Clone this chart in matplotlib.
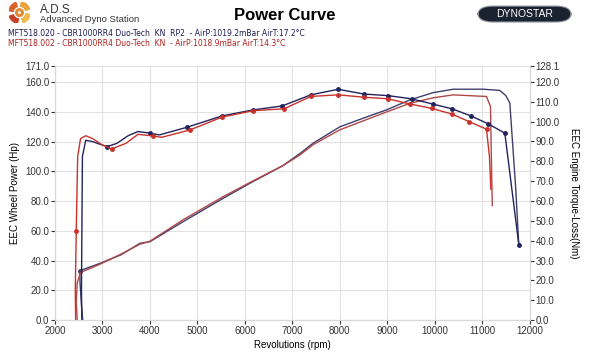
import matplotlib
matplotlib.use("Agg")
import matplotlib.pyplot as plt
from matplotlib.patches import FancyBboxPatch, Wedge

plt.rcParams["font.family"] = ["Liberation Sans", "DejaVu Sans"]

# run 020 (navy) and run 002 (red)
rpm_pw_a = [2600, 2560, 2530, 2526, 2947, 3400, 3789, 4000, 4701, 5543, 6105, 6807,
            7158, 7438, 8000, 8491, 8983, 9474, 9965, 10386, 11017, 11368, 11495,
            11579, 11700, 11768]
hp_a = [-5, 10, 25, 33.2, 38.1, 44, 51.6, 52.7, 66.2, 81.9, 92, 104,
        112, 119, 130, 135.8, 141.4, 148.1, 153, 155.3, 155.3, 154.5, 151,
        146, 90, 50.7]

rpm_pw_b = [2480, 2450, 2470, 2540, 2947, 3400, 3789, 4000, 4701, 5543, 6105, 6807,
            7158, 7438, 8000, 8491, 8983, 9474, 9965, 10386, 11088, 11172, 11190, 11210]
hp_b = [-5, 12, 25, 32, 37.5, 44.5, 51, 53, 67.5, 83, 92.5, 104,
        111, 118, 128, 134, 140, 145.8, 149.5, 151.5, 150.4, 143.6, 110, 77]

rpm_tq_a = [2570, 2560, 2580, 2650, 2800, 2950, 3101, 3300, 3550, 3750, 4000, 4200,
            4786, 5522, 6175, 6786, 7389, 7965, 8512, 9017, 9509, 9951, 10372, 10758,
            11123, 11474, 11768]
nm_a = [-3.7, 15, 82.4, 90.6, 89.9, 88.6, 87.4, 89.0, 93.0, 95.0, 94.2, 93.3,
        97.2, 102.9, 105.9, 107.9, 113.5, 116.3, 113.9, 113.1, 111.5, 108.9, 106.4,
        102.9, 98.9, 94.2, 38.0]
mk_a = [6, 10, 12, 13, 14, 15, 16, 17, 18, 19, 20, 21, 22, 23, 24, 25, 26]

rpm_tq_b = [2440, 2430, 2450, 2480, 2540, 2650, 2800, 2980, 3193, 3500, 3750, 4057,
            4250, 4842, 5522, 6175, 6828, 7389, 7965, 8512, 9017, 9474, 9930, 10351,
            10722, 11088, 11150, 11180]
nm_b = [-3.7, 15, 44.9, 82.4, 91.4, 92.9, 91.4, 88.5, 86.2, 89.1, 93.6, 92.8,
        92.1, 95.8, 102.3, 105.5, 106.5, 112.7, 113.5, 112.3, 111.5, 108.9, 106.7,
        103.9, 100.0, 96.2, 82.4, 65.9]
mk_b = [2, 8, 11, 13, 14, 15, 16, 17, 18, 19, 20, 21, 22, 23, 24, 25]

left_ticks = [0, 20, 40, 60, 80, 100, 120, 140, 160, 171]
right_ticks = [0, 10, 20, 30, 40, 50, 60, 70, 80, 90, 100, 110, 120, 128.1]
x_ticks = list(range(2000, 12001, 1000))

navy = "#22225e"
navy2 = "#3e3e6e"
red = "#c8322a"
red2 = "#b04848"

fig = plt.figure(figsize=(5.9, 3.6), dpi=100)
ax = fig.add_axes([0.093, 0.111, 0.805, 0.706])
ax2 = ax.twinx()

ax.plot(rpm_pw_a, hp_a, color=navy2, lw=1.0, marker="o", ms=2.5, markevery=[3])
ax.plot(rpm_pw_b, hp_b, color=red2, lw=1.0)
ax2.plot(rpm_tq_a, nm_a, color=navy, lw=1.0, marker="o", ms=2.5, markevery=mk_a)
ax2.plot(rpm_tq_b, nm_b, color=red, lw=1.0, marker="o", ms=2.5, markevery=mk_b)

ax.set_xlim(2000, 12000)
ax.set_ylim(0, 171)
ax2.set_ylim(0, 128.1)
ax.set_xticks(x_ticks)
ax.set_yticks(left_ticks)
ax.set_yticklabels([f"{v:.1f}" for v in left_ticks])
ax2.set_yticks(right_ticks)
ax2.set_yticklabels([f"{v:.1f}" for v in right_ticks])
ax.grid(True, color="#e2e2e2", lw=0.8)
ax.set_axisbelow(True)

for a in (ax, ax2):
    a.tick_params(labelsize=7, length=3, width=0.8, pad=1, colors="#333333")
    for s in a.spines.values():
        s.set_color("#d8d8d8")
    a.spines["top"].set_visible(False)

ax.set_xlabel("Revolutions (rpm)", fontsize=7, labelpad=3)
ax.set_ylabel("EEC Wheel Power (Hp)", fontsize=7, labelpad=4)
ax2.set_ylabel("EEC Engine Torque-Loss(Nm)", fontsize=7, rotation=-90, labelpad=14)

# header
fig.text(0.068, 0.972, "A.D.S.", fontsize=8.5, color="#333333", va="center")
fig.text(0.068, 0.946, "Advanced Dyno Station", fontsize=6.8, color="#333333", va="center")
fig.text(0.483, 0.958, "Power Curve", fontsize=12, fontweight="bold", ha="center", va="center")
fig.text(0.014, 0.906, "MFT518.020 - CBR1000RR4 Duo-Tech  KN  RP2  - AirP:1019.2mBar AirT:17.2\u00b0C",
         fontsize=5.5, color="#1c1c50", va="center", family="DejaVu Sans")
fig.text(0.014, 0.879, "MFT518.002 - CBR1000RR4 Duo-Tech  KN  - AirP:1018.9mBar AirT:14.3\u00b0C",
         fontsize=5.5, color="#b02020", va="center", family="DejaVu Sans")

# logo swirl
lax = fig.add_axes([0.013, 0.935, 0.04, 0.06])
lax.set_xlim(-1, 1)
lax.set_ylim(-1, 1)
lax.set_aspect("equal")
lax.axis("off")
for ang, col in zip([20, 110, 200, 290], ["#e8a33a", "#d9612a", "#c9402a", "#f0b848"]):
    lax.add_patch(Wedge((0, 0), 1.0, ang, ang + 60, width=0.4, color=col))
lax.add_patch(Wedge((0, 0), 0.35, 0, 360, width=0.15, color="#e08a30"))

# dynostar badge
fig.patches.append(FancyBboxPatch((0.822, 0.951), 0.134, 0.02,
                                  boxstyle="round,pad=0.012,rounding_size=0.025",
                                  transform=fig.transFigure, fc="#1b2230", ec="#8a8f99", lw=0.8))
fig.text(0.889, 0.961, "DYNOSTAR", fontsize=7.5, color="white", ha="center", va="center")

fig.savefig("out.png", dpi=100)
